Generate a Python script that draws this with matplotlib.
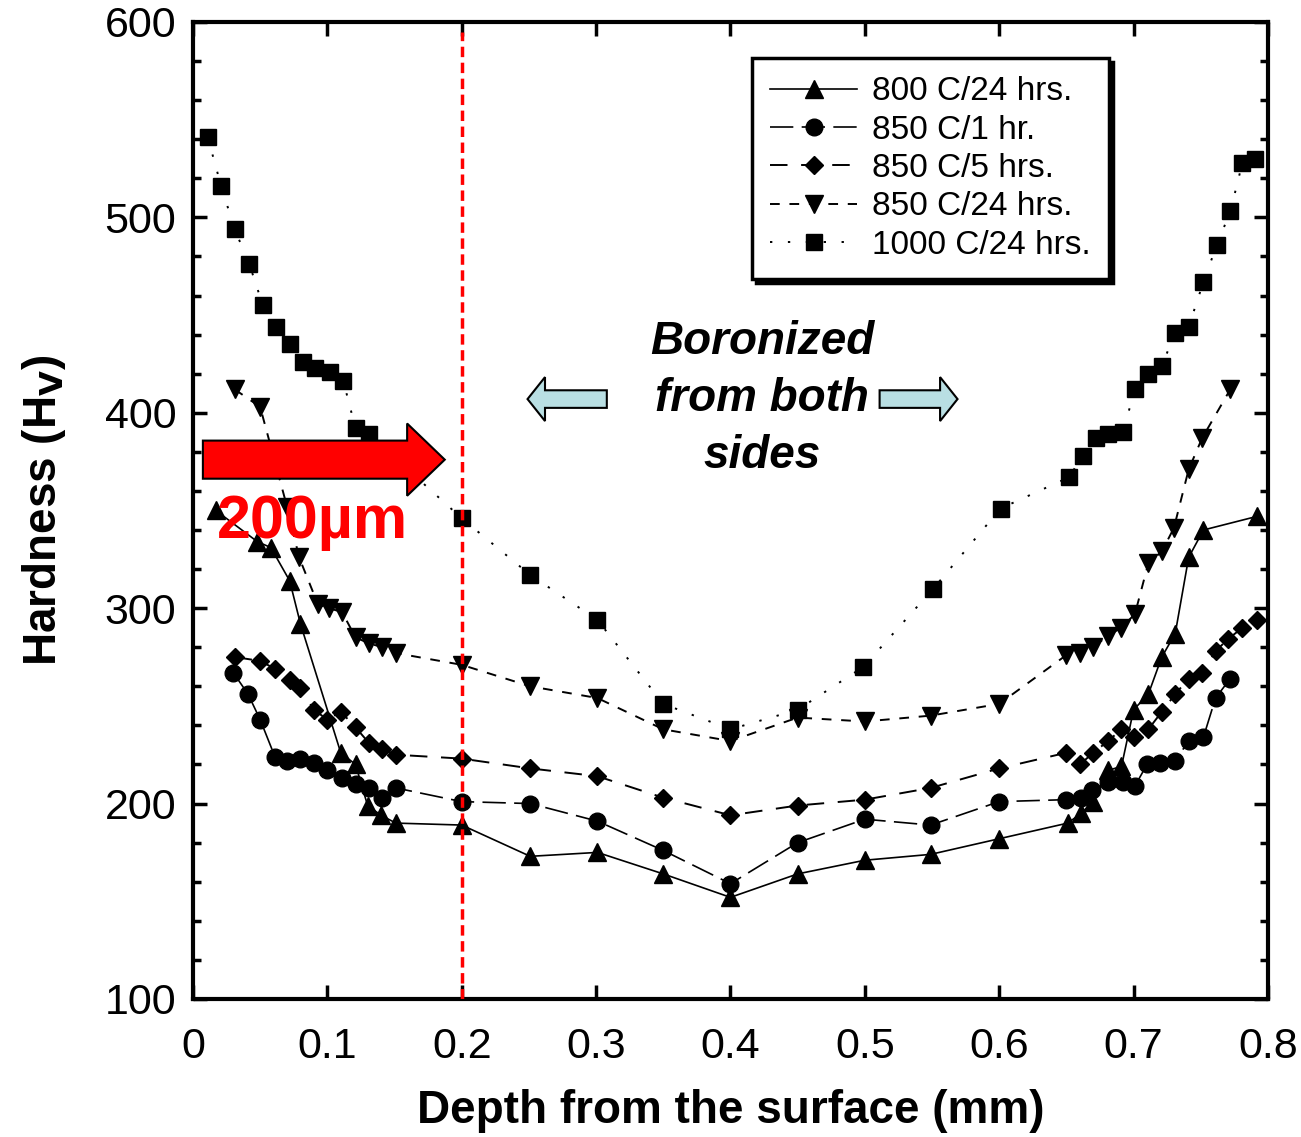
import matplotlib.pyplot as plt
from matplotlib.patches import FancyArrow

plt.rcParams['font.family'] = ['Liberation Sans', 'DejaVu Sans']

# 800 C / 24 hrs  (up triangles, solid line)
x_800_24 = [0.017, 0.048, 0.058, 0.072, 0.080, 0.110, 0.121, 0.130, 0.140, 0.151,
            0.200, 0.251, 0.301, 0.350, 0.400, 0.450, 0.500, 0.549, 0.600, 0.651,
            0.661, 0.670, 0.681, 0.691, 0.700, 0.711, 0.721, 0.731, 0.741, 0.752, 0.792]
y_800_24 = [350, 334, 331, 314, 292, 226, 220, 199, 194, 190,
            189, 173, 175, 164, 152, 164, 171, 174, 182, 190,
            195, 201, 217, 219, 248, 256, 275, 287, 326, 340, 347]

# 850 C / 1 hr  (circles)
x_850_1 = [0.030, 0.041, 0.050, 0.061, 0.070, 0.080, 0.090, 0.100, 0.111, 0.121, 0.131,
           0.141, 0.151, 0.200, 0.251, 0.301, 0.350, 0.400, 0.450, 0.500, 0.549,
           0.600, 0.650, 0.661, 0.669, 0.681, 0.692, 0.701, 0.710, 0.720, 0.731,
           0.741, 0.752, 0.761, 0.772]
y_850_1 = [267, 256, 243, 224, 222, 223, 221, 217, 213, 210, 208,
           203, 208, 201, 200, 191, 176, 159, 180, 192, 189,
           201, 202, 203, 207, 211, 211, 209, 220, 221, 222,
           232, 234, 254, 264]

# 850 C / 5 hrs  (diamonds)
x_850_5 = [0.031, 0.050, 0.061, 0.072, 0.080, 0.090, 0.100, 0.110, 0.121, 0.131,
           0.141, 0.151, 0.200, 0.251, 0.301, 0.350, 0.400, 0.450, 0.500, 0.549,
           0.600, 0.650, 0.660, 0.670, 0.681, 0.691, 0.700, 0.711, 0.721, 0.731,
           0.741, 0.751, 0.761, 0.770, 0.781, 0.792]
y_850_5 = [275, 273, 269, 263, 259, 248, 243, 247, 239, 231,
           228, 225, 223, 218, 214, 203, 194, 199, 202, 208,
           218, 226, 220, 226, 232, 238, 234, 238, 247, 256,
           264, 267, 278, 284, 290, 294]

# 850 C / 24 hrs  (down triangles)
x_850_24 = [0.031, 0.050, 0.070, 0.079, 0.093, 0.101, 0.111, 0.121, 0.131, 0.141,
            0.151, 0.200, 0.251, 0.301, 0.350, 0.400, 0.450, 0.500, 0.549, 0.600,
            0.650, 0.660, 0.670, 0.681, 0.691, 0.701, 0.711, 0.721, 0.730, 0.741,
            0.751, 0.772]
y_850_24 = [412, 403, 352, 326, 302, 300, 298, 285, 282, 280,
            277, 271, 260, 254, 238, 232, 244, 242, 245, 251,
            276, 277, 280, 286, 290, 297, 323, 329, 341, 371,
            387, 412]

# 1000 C / 24 hrs  (squares)
x_1000_24 = [0.011, 0.021, 0.031, 0.042, 0.052, 0.062, 0.072, 0.082, 0.091, 0.102,
             0.112, 0.121, 0.131, 0.200, 0.251, 0.301, 0.350, 0.400, 0.450, 0.499,
             0.551, 0.601, 0.652, 0.662, 0.672, 0.681, 0.692, 0.701, 0.711, 0.721,
             0.731, 0.741, 0.752, 0.762, 0.772, 0.781, 0.790]
y_1000_24 = [541, 516, 494, 476, 455, 444, 435, 426, 423, 421,
             416, 392, 389, 346, 317, 294, 251, 238, 248, 270,
             310, 351, 367, 378, 387, 389, 390, 412, 420, 424,
             441, 444, 467, 486, 503, 528, 530]

labels = ["800 C/24 hrs.", "850 C/1 hr.", "850 C/5 hrs.", "850 C/24 hrs.", "1000 C/24 hrs."]
x_ticks = [0, 0.1, 0.2, 0.3, 0.4, 0.5, 0.6, 0.7, 0.8]
x_ticklabels = ["0", "0.1", "0.2", "0.3", "0.4", "0.5", "0.6", "0.7", "0.8"]
y_ticks = [100, 200, 300, 400, 500, 600]

fig = plt.figure(figsize=(13.01, 11.37), dpi=100)
ax = fig.add_axes([0.1483, 0.1214, 0.8263, 0.8593])

ax.plot(x_800_24, y_800_24, color='black', lw=1.2, ls='-',
        marker='^', ms=13, label=labels[0])
ax.plot(x_850_1, y_850_1, color='black', lw=1.2, ls=(0, (14, 5)),
        marker='o', ms=12, label=labels[1])
ax.plot(x_850_5, y_850_5, color='black', lw=1.4, ls=(0, (9, 7)),
        marker='D', ms=9.5, label=labels[2])
ax.plot(x_850_24, y_850_24, color='black', lw=1.4, ls=(0, (5, 5)),
        marker='v', ms=13, label=labels[3])
ax.plot(x_1000_24, y_1000_24, color='black', lw=1.4, ls=(0, (1.2, 8)),
        marker='s', ms=12, label=labels[4])

ax.set_xlim(0, 0.8)
ax.set_ylim(100, 600)
ax.set_xticks(x_ticks)
ax.set_xticklabels(x_ticklabels)
ax.set_yticks(y_ticks)
ax.set_yticks(range(100, 601, 20), minor=True)
ax.tick_params(which='both', direction='in', top=True, right=True, labelsize=31)
ax.tick_params(which='major', length=10, width=2.5)
ax.tick_params(which='minor', length=6, width=2.5)
ax.tick_params(axis='x', pad=20)
ax.tick_params(axis='y', pad=12)
for s in ax.spines.values():
    s.set_linewidth(3)

ax.set_xlabel("Depth from the surface (mm)", fontsize=33, fontweight='bold', labelpad=16)
ax.set_ylabel(r"Hardness (H$_\mathbf{V}$)", fontsize=33, fontweight='bold', labelpad=26)

leg = ax.legend(loc='upper left', bbox_to_anchor=(0.52, 0.963), fontsize=24,
                frameon=True, fancybox=False, edgecolor='black', handlelength=2.6,
                handletextpad=0.45, labelspacing=0.22, borderpad=0.55, borderaxespad=0,
                shadow={'color': 'black', 'alpha': 1.0, 'ox': 3, 'oy': -3})
leg.get_frame().set_linewidth(2.5)

# red 200 um marker
ax.vlines(0.2, 100, 595, colors='red', linestyles=(0, (3, 1.6)), lw=2.5, zorder=5)
ax.add_patch(FancyArrow(0.0074, 376, 0.180, 0, width=19.5, head_width=37,
                        head_length=0.028, length_includes_head=True,
                        facecolor='red', edgecolor='black', lw=1.5, zorder=6))
ax.text(0.0893, 344, "200µm", color='red', fontsize=44, fontweight='bold',
        ha='center', va='center', zorder=7)

# boronized annotation
ax.text(0.4234, 407, "Boronized\nfrom both\nsides", fontsize=33, fontweight='bold',
        style='italic', ha='center', va='center', linespacing=1.38, zorder=7)
ax.add_patch(FancyArrow(0.308, 407, -0.059, 0, width=9, head_width=22.5,
                        head_length=0.013, length_includes_head=True,
                        facecolor='#b9dfe3', edgecolor='black', lw=1.5, zorder=6))
ax.add_patch(FancyArrow(0.511, 407, 0.058, 0, width=9, head_width=22.5,
                        head_length=0.013, length_includes_head=True,
                        facecolor='#b9dfe3', edgecolor='black', lw=1.5, zorder=6))

fig.savefig("out.png", dpi=100)
